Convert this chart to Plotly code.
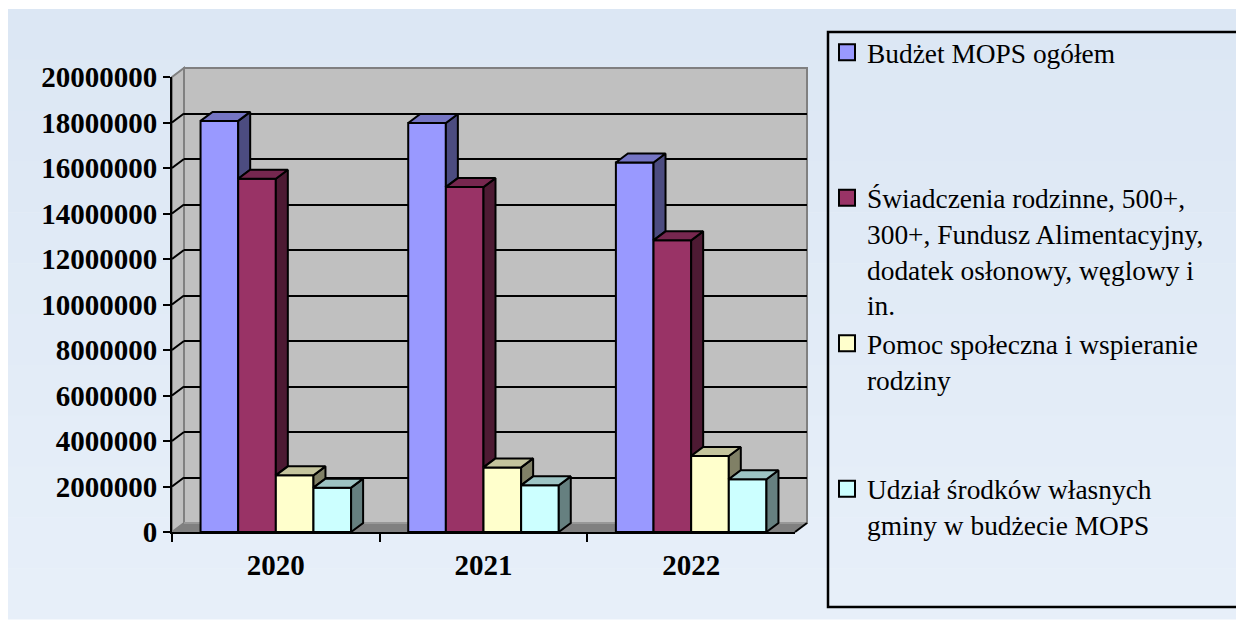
import plotly.graph_objects as go

# ---------------- data ----------------
YEARS = ["2020", "2021", "2022"]
SERIES_NAMES = [
    "Budżet MOPS ogółem",
    "Świadczenia rodzinne, 500+,<br>300+, Fundusz Alimentacyjny,<br>dodatek osłonowy, węglowy i<br>in.",
    "Pomoc społeczna i wspieranie<br>rodziny",
    "Udział środków własnych<br>gminy w budżecie MOPS",
]
BUDZET_OGOLEM = [18070000, 17980000, 16240000]
SWIADCZENIA = [15530000, 15160000, 12820000]
POMOC_SPOLECZNA = [2490000, 2840000, 3340000]
SRODKI_WLASNE = [1950000, 2050000, 2320000]
Y_TICKS = [0, 2000000, 4000000, 6000000, 8000000, 10000000,
           12000000, 14000000, 16000000, 18000000, 20000000]
Y_TICK_LABELS = ["0", "2000000", "4000000", "6000000", "8000000", "10000000",
                 "12000000", "14000000", "16000000", "18000000", "20000000"]

SERIES = [BUDZET_OGOLEM, SWIADCZENIA, POMOC_SPOLECZNA, SRODKI_WLASNE]
FRONT_COLORS = ["#9999ff", "#993366", "#ffffcc", "#ccffff"]
TOP_COLORS = ["#7575c4", "#76274f", "#c4c49d", "#9dc4c4"]
SIDE_COLORS = ["#4c4c80", "#4d1a33", "#808066", "#668080"]

# ---------------- geometry (pixels on the page) ----------------
W, H = 1244, 623
OX, OY = 8, 8                            # default page body margin
FL, FR, FT, FB = 172, 795, 77, 532      # front plane
DX_PX, DY_PX = 12, 9                     # 3D depth offset
XR = [-0.5, len(YEARS) - 0.5]
YR = [Y_TICKS[0], Y_TICKS[-1]]
GROUP = 0.725
BW = GROUP / len(SERIES)

def px(p):
    return (p - OX) / W

def py(p):
    return 1 - (p - OY) / H

dx = DX_PX * (XR[1] - XR[0]) / (FR - FL)
dy = DY_PX * (YR[1] - YR[0]) / (FB - FT)

SERIF = "Liberation Serif, Times New Roman, serif"

fig = go.Figure()

# back-wall subplot (draws grid lines on the back wall)
fig.add_trace(go.Scatter(x=[None], y=[None], xaxis="x", yaxis="y",
                         showlegend=False, hoverinfo="skip"))

xpos = list(range(len(YEARS)))

# front faces
for i, vals in enumerate(SERIES):
    off = -GROUP / 2 + i * BW
    fig.add_trace(go.Bar(
        x=xpos, y=vals, width=BW, offset=off, xaxis="x2", yaxis="y2",
        marker=dict(color=FRONT_COLORS[i], line=dict(color="black", width=2)),
        showlegend=False, hoverinfo="skip",
    ))

# top and side faces
for i, vals in enumerate(SERIES):
    off = -GROUP / 2 + i * BW
    tx, ty, sx, sy = [], [], [], []
    for k, v in enumerate(vals):
        xl = xpos[k] + off
        xr = xl + BW
        tx += [xl, xr, xr + dx, xl + dx, xl, None]
        ty += [v, v, v + dy, v + dy, v, None]
        vb = 0
        if i + 1 < len(SERIES):
            vb = min(SERIES[i + 1][k], v)
        if vb < v:
            sx += [xr, xr + dx, xr + dx, xr, xr, None]
            sy += [vb, vb + dy, v + dy, v, vb, None]
    fig.add_trace(go.Scatter(x=sx, y=sy, xaxis="x2", yaxis="y2", mode="lines",
                             fill="toself", fillcolor=SIDE_COLORS[i],
                             line=dict(color="black", width=2),
                             showlegend=False, hoverinfo="skip"))
    fig.add_trace(go.Scatter(x=tx, y=ty, xaxis="x2", yaxis="y2", mode="lines",
                             fill="toself", fillcolor=TOP_COLORS[i],
                             line=dict(color="black", width=2),
                             showlegend=False, hoverinfo="skip"))

# slanted grid segments on the left wall
gx, gy = [], []
for v in Y_TICKS[1:-1]:
    gx += [XR[0], XR[0] + dx, None]
    gy += [v, v + dy, None]
fig.add_trace(go.Scatter(x=gx, y=gy, xaxis="x2", yaxis="y2", mode="lines",
                         line=dict(color="black", width=2),
                         showlegend=False, hoverinfo="skip"))

# legend entries (padded to equal 4-line slots)
PAD = [3, 0, 2, 0]
for i, name in enumerate(SERIES_NAMES):
    fig.add_trace(go.Scatter(
        x=[None], y=[None], xaxis="x2", yaxis="y2", mode="markers",
        name=name + "<br>\u00a0" * PAD[i],
        marker=dict(symbol="square", size=16, color=FRONT_COLORS[i],
                    line=dict(color="black", width=2)),
    ))

# background: soft vertical gradient in bands
BG_TOP, BG_BOT = (220, 231, 244), (231, 239, 249)
BG_Y0, BG_Y1, NB = 9, 619, 12
shapes = []
for b in range(NB):
    t = b / (NB - 1)
    c = tuple(round(BG_TOP[j] + (BG_BOT[j] - BG_TOP[j]) * t) for j in range(3))
    y0 = BG_Y0 + (BG_Y1 - BG_Y0) * b / NB
    y1 = BG_Y0 + (BG_Y1 - BG_Y0) * (b + 1) / NB
    shapes.append(dict(type="rect", xref="paper", yref="paper", layer="below",
                       x0=px(7), x1=px(1241), y0=py(y1 + 0.5), y1=py(y0),
                       fillcolor=f"rgb{c}", line=dict(width=0)))

shapes += [
    # back wall
    dict(type="rect", xref="paper", yref="paper", layer="below",
         x0=px(FL + DX_PX), x1=px(FR + DX_PX), y0=py(FB - DY_PX), y1=py(FT - DY_PX),
         fillcolor="#c0c0c0", line=dict(color="#808080", width=2)),
    # left wall
    dict(type="path", xref="paper", yref="paper", layer="below",
         path=f"M{px(FL)},{py(FB)} L{px(FL)},{py(FT)} L{px(FL+DX_PX)},{py(FT-DY_PX)} "
              f"L{px(FL+DX_PX)},{py(FB-DY_PX)} Z",
         fillcolor="#c0c0c0", line=dict(color="#808080", width=2)),
    # floor
    dict(type="path", xref="paper", yref="paper", layer="below",
         path=f"M{px(FL)},{py(FB)} L{px(FR)},{py(FB)} L{px(FR+DX_PX)},{py(FB-DY_PX)} "
              f"L{px(FL+DX_PX)},{py(FB-DY_PX)} Z",
         fillcolor="#808080", line=dict(width=0)),
    dict(type="line", xref="paper", yref="paper", layer="below",
         x0=px(FL + DX_PX), y0=py(FB - DY_PX), x1=px(FR + DX_PX), y1=py(FB - DY_PX),
         line=dict(color="#a0a0a0", width=1.5)),
    dict(type="line", xref="paper", yref="paper", layer="below",
         x0=px(FR), y0=py(FB), x1=px(FR + DX_PX), y1=py(FB - DY_PX),
         line=dict(color="black", width=2)),
    # legend frame
    dict(type="rect", xref="paper", yref="paper", layer="above",
         x0=px(828), x1=px(1238), y0=py(607), y1=py(32),
         line=dict(color="black", width=2.5), fillcolor="rgba(0,0,0,0)"),
]

fig.update_layout(
    width=W, height=H,
    margin=dict(l=0, r=0, t=0, b=0, pad=0, autoexpand=False),
    paper_bgcolor="white",
    plot_bgcolor="rgba(0,0,0,0)",
    barmode="overlay",
    shapes=shapes,
    showlegend=True,
    legend=dict(x=px(827), y=py(28), xanchor="left", yanchor="top",
                valign="top", bgcolor="rgba(0,0,0,0)", borderwidth=0,
                font=dict(family=SERIF, size=27.4, color="black"),
                tracegroupgap=0, itemclick=False, itemdoubleclick=False),
    xaxis=dict(domain=[px(FL + DX_PX), px(FR + DX_PX)], range=XR, anchor="y",
               showgrid=False, zeroline=False, showline=False,
               showticklabels=False, ticks="", automargin=False),
    yaxis=dict(domain=[py(FB - DY_PX), py(FT - DY_PX)], range=YR, anchor="x",
               tickmode="array", tickvals=Y_TICKS[1:-1],
               showgrid=True, gridcolor="black", gridwidth=2,
               zeroline=False, showline=False, showticklabels=False, ticks="",
               automargin=False),
    xaxis2=dict(domain=[px(FL), px(FR)], range=XR, anchor="y2",
                tickmode="array", tickvals=xpos, ticktext=YEARS,
                ticks="outside", ticklen=6, tickcolor="rgba(0,0,0,0)",
                tickfont=dict(family=SERIF, size=29, color="black", weight="bold"),
                minor=dict(tickmode="array", tickvals=[p - 0.5 for p in xpos],
                           ticks="outside", ticklen=8, tickwidth=2, tickcolor="black"),
                showgrid=False, zeroline=False, automargin=False,
                showline=True, linecolor="black", linewidth=2),
    yaxis2=dict(domain=[py(FB), py(FT)], range=YR, anchor="x2",
                tickmode="array", tickvals=Y_TICKS, ticktext=Y_TICK_LABELS,
                ticks="outside", ticklen=7, tickwidth=2, tickcolor="black",
                tickfont=dict(family=SERIF, size=29, color="black", weight="bold"),
                showgrid=False, zeroline=False, automargin=False,
                showline=True, linecolor="black", linewidth=2),
)

fig.write_html("out.html")
